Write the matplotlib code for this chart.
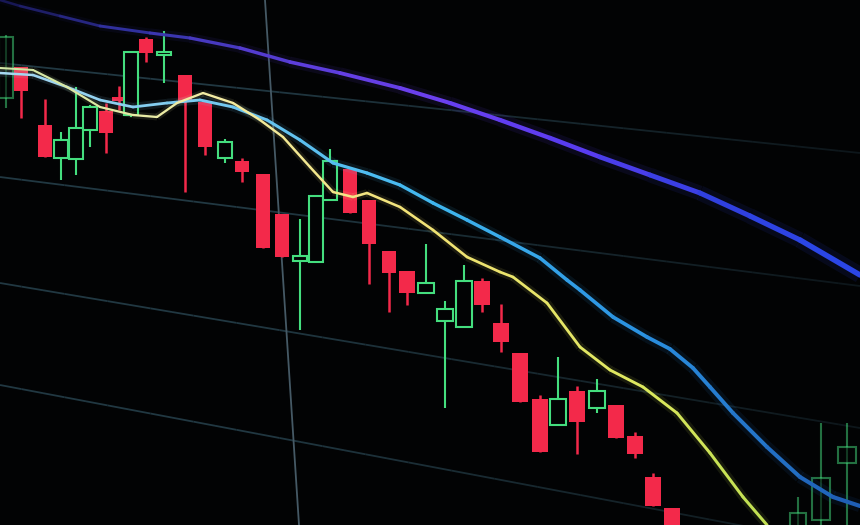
import matplotlib.pyplot as plt
import numpy as np
from matplotlib.collections import LineCollection
from matplotlib.colors import LinearSegmentedColormap

# candles: x position, open, high, low, close
candle_x = [6, 21, 45, 61, 76, 90, 106, 119, 131, 146, 164, 185, 205, 225, 242, 263, 282,
            300, 316, 330, 350, 369, 389, 407, 426, 445, 464, 482, 501, 520, 540, 558, 577,
            597, 616, 635, 653, 672, 798, 821, 847]
candle_open = [427, 458, 400, 367, 366, 395, 414, 428, 410, 486, 470, 450, 423, 367, 364, 351, 311,
               264, 263, 325, 356, 325, 274, 254, 232, 204, 198, 244, 202, 172, 126, 100, 134,
               117, 120, 89, 48, 17, -10, 5, 62]
candle_high = [490, 458, 426, 393, 438, 420, 422, 439, 473, 488, 494, 450, 423, 386, 367, 351, 311,
               306, 329, 376, 356, 325, 274, 254, 281, 224, 260, 247, 221, 172, 130, 168, 139,
               146, 120, 93, 52, 17, 28, 102, 102]
candle_low = [417, 407, 368, 345, 350, 378, 372, 415, 408, 463, 442, 333, 370, 362, 343, 277, 268,
              195, 263, 325, 312, 241, 213, 220, 232, 117, 198, 213, 173, 123, 73, 100, 71,
              112, 87, 67, 19, -10, -10, -10, -10]
candle_close = [488, 434, 368, 385, 397, 418, 392, 424, 473, 472, 473, 423, 378, 383, 353, 277, 268,
                269, 329, 364, 312, 281, 252, 232, 242, 216, 244, 220, 183, 123, 73, 126, 103,
                134, 87, 71, 19, -10, 12, 47, 78]

# moving averages
slow_x = [0, 20, 60, 100, 150, 190, 240, 290, 340, 400, 450, 500, 550, 600, 650, 700, 750, 800, 860]
slow_y = [525, 519, 509, 499, 492, 487, 477, 463, 452, 437, 422, 405, 387, 368, 350, 332, 309, 285, 250]

mid_x = [0, 33, 67, 100, 133, 167, 200, 233, 267, 300, 333, 367, 400, 433, 467, 500, 540, 567, 580,
         613, 647, 670, 693, 710, 733, 767, 800, 833, 860]
mid_y = [452, 450, 438, 425, 418, 422, 425, 418, 405, 385, 362, 352, 340, 322, 305, 288, 267, 245, 235,
         208, 188, 176, 157, 138, 112, 78, 48, 28, 19]

fast_x = [0, 33, 67, 100, 133, 157, 177, 203, 233, 260, 283, 310, 333, 353, 367, 400, 433, 467, 500,
          513, 547, 580, 610, 643, 677, 710, 743, 767]
fast_y = [457, 455, 438, 418, 410, 408, 422, 432, 422, 405, 388, 358, 333, 328, 332, 318, 295, 268, 253,
          248, 222, 178, 155, 138, 112, 72, 28, 0]

# screen grid lines (start x, start y, end x, end y)
grid_x0 = [0, 0, 0, 0]
grid_y0 = [462, 348, 242, 140]
grid_x1 = [860, 860, 860, 860]
grid_y1 = [372, 239, 97, -23]
vgrid_x0, vgrid_y0, vgrid_x1, vgrid_y1 = 265, 525, 299, 0

bg = '#020304'
red = '#f3294a'
green = '#44de7e'

fig = plt.figure(figsize=(8.6, 5.25), dpi=100)
fig.patch.set_facecolor(bg)
ax = fig.add_axes([0, 0, 1, 1])
ax.set_xlim(0, 860)
ax.set_ylim(0, 525)
ax.axis('off')

# grid lines fade out towards the right edge of the screen
for x0, y0, x1, y1 in zip(grid_x0, grid_y0, grid_x1, grid_y1):
    t = np.linspace(0, 1, 41)
    gx = x0 + (x1 - x0) * t
    gy = y0 + (y1 - y0) * t
    segs = np.stack([np.column_stack([gx[:-1], gy[:-1]]), np.column_stack([gx[1:], gy[1:]])], axis=1)
    cols = np.zeros((len(segs), 4))
    cols[:, :3] = [0.13, 0.22, 0.26]
    cols[:, 3] = np.clip(1.25 - t[:-1] * 0.9, 0.2, 1)
    ax.add_collection(LineCollection(segs, colors=cols, linewidths=1.3, zorder=1))
ax.plot([vgrid_x0, vgrid_x1], [vgrid_y0, vgrid_y1], color='#455965', lw=1.3, zorder=1)

for x, o, h, l, c in zip(candle_x, candle_open, candle_high, candle_low, candle_close):
    w = 13 + x * 0.005
    a = 0.5 if (x > 780 or x < 10) else 1
    if c >= o:
        ax.vlines(x, l, h, color=green, lw=1.5, alpha=a, zorder=3)
        ax.bar(x, c - o, width=w, bottom=o, facecolor=bg, edgecolor=green,
               linewidth=1.5, alpha=a, zorder=4)
    else:
        ax.vlines(x, l, h, color=red, lw=1.8, zorder=3)
        ax.bar(x, o - c, width=w, bottom=c, color=red, zorder=4)


def neon(xs, ys, colors, lw0, lw1):
    pts = np.column_stack([xs, ys])
    segs = np.stack([pts[:-1], pts[1:]], axis=1)
    mid = (np.array(xs[:-1]) + np.array(xs[1:])) / 2 / 860
    cmap = LinearSegmentedColormap.from_list('line', colors)
    widths = lw0 + (lw1 - lw0) * mid
    ax.add_collection(LineCollection(segs, colors=cmap(mid), linewidths=widths * 3,
                                     alpha=0.1, capstyle='butt', zorder=5))
    ax.add_collection(LineCollection(segs, colors=cmap(mid), linewidths=widths,
                                     capstyle='round', joinstyle='round', zorder=6))


neon(slow_x, slow_y, ['#161650', '#3434a8', '#5a3ed8', '#6c40f0', '#5a3cf0', '#3040e0', '#2a48e8'], 1.8, 4.0)
neon(mid_x, mid_y, ['#a8d8f0', '#74c8f0', '#40b8f0', '#2a90e0', '#1e5cb4'], 1.8, 3.0)
neon(fast_x, fast_y, ['#cfe6a4', '#f4eca4', '#f2e274', '#dde85e', '#a8d848'], 1.5, 2.3)

fig.savefig('out.png', dpi=100, facecolor=bg)
